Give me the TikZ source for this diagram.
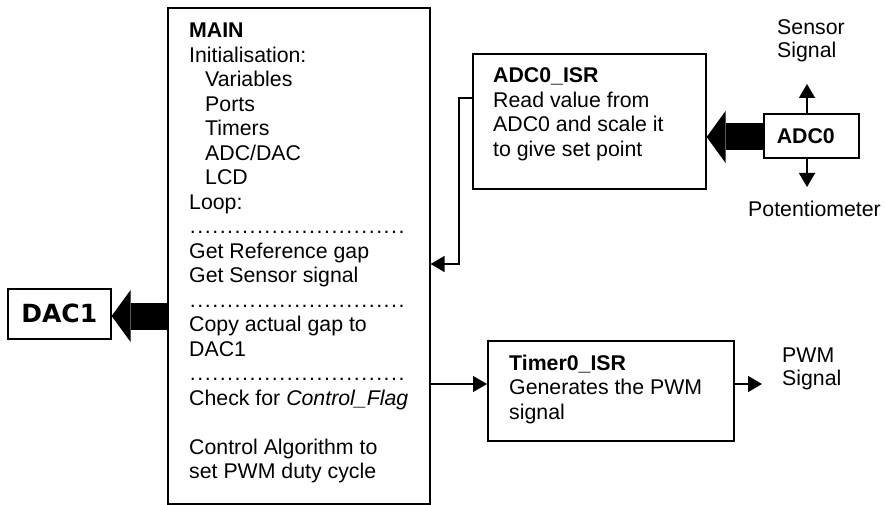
\documentclass[tikz,border=0pt]{standalone}
\usepackage{fontspec}
\setmainfont{Liberation Sans}
\newfontfamily\dacfont{DejaVu Sans}
\usetikzlibrary{arrows.meta}
\newcommand{\dotrow}{\hbox to 216pt{\xleaders\hbox to 7.44pt{\hss.\hss}\hfill}}

\begin{document}
\begin{tikzpicture}[x=1pt,y=-1pt,
 font=\fontsize{21.3}{24.5}\selectfont,
 frame/.style={draw,line width=1.6pt,inner sep=0pt,anchor=north west},
 txt/.style={inner sep=0pt,anchor=base west},
 conn/.style={line width=1.5pt,-{Triangle[length=14pt,width=16pt]}},
 fat/.style={line width=27pt,-{Triangle[length=19pt,width=52pt,line width=0pt]}}]
 \useasboundingbox (0,0) rectangle (886,505);
 \node[frame,minimum width=262pt,minimum height=496pt] (main) at (167,7) {};
 \node[txt] (maintext) at (189,38) {\begin{tabular}[t]{@{}l@{}}
  \textbf{MAIN}\\
  Initialisation:\\
  \hspace*{16pt}Variables\\
  \hspace*{16pt}Ports\\
  \hspace*{16pt}Timers\\
  \hspace*{16pt}ADC/DAC\\
  \hspace*{16pt}LCD\\
  Loop:\\
  \dotrow\\
  Get Reference gap\\
  Get Sensor signal\\
  \dotrow\\
  Copy actual gap to\\
  DAC1\\
  \dotrow\\
  Check for \textit{Control\_Flag}\\
  \\
  Control Algorithm to\\
  set PWM duty cycle
 \end{tabular}};
 \node[frame,minimum width=233pt,minimum height=135pt] (adcisr) at (472,53) {};
 \node[txt] (adcisrtext) at (493,83) {\begin{tabular}[t]{@{}l@{}}
  \textbf{ADC0\_ISR}\\ Read value from\\ ADC0 and scale it\\ to give set point
 \end{tabular}};
 \node[frame,minimum width=246pt,minimum height=100pt] (timerisr) at (487,340) {};
 \node[txt] (timertext) at (509,370) {\begin{tabular}[t]{@{}l@{}}
  \textbf{Timer0\_ISR}\\ Generates the PWM\\ signal
 \end{tabular}};
 \node[frame,minimum width=95pt,minimum height=44pt,text width=69pt,align=left,inner xsep=13pt] (adc) at (763,113) {\textbf{ADC0}};
 \node[frame,minimum width=103pt,minimum height=50pt,font=\dacfont\fontsize{25}{30}\selectfont\bfseries] (dac) at (7,288) {DAC1};
 \node[txt,font=\fontsize{21.3}{23}\selectfont] (sensor) at (777,35) {\begin{tabular}[t]{@{}l@{}}Sensor\\ Signal\end{tabular}};
 \node[txt] (pot) at (748,217) {Potentiometer};
 \node[txt,font=\fontsize{21.3}{23}\selectfont] (pwm) at (782,362) {\begin{tabular}[t]{@{}l@{}}PWM\\ Signal\end{tabular}};
 \coordinate (sensortip) at (807,84);
 \coordinate (pottip) at (807,187);
 \coordinate (pwmtip) at (762,384);
 \draw[conn] (sensortip |- adc.north) -- (sensortip);
 \draw[conn] (pottip |- adc.south) -- (pottip);
 \draw[conn] (timerisr.east |- pwmtip) -- (pwmtip);
 \draw[conn] (main.east |- pwmtip) -- (timerisr.west |- pwmtip);
 \draw[conn] ([yshift=-45pt]adcisr.north west) -- ++(-13,0) |- (main.east |- 0,264);
 \draw[fat] (adc.west |- 0,137) -- (adcisr.east |- 0,137);
 \draw[fat] (main.west |- 0,316) -- (dac.east |- 0,316);
\end{tikzpicture}
\end{document}
